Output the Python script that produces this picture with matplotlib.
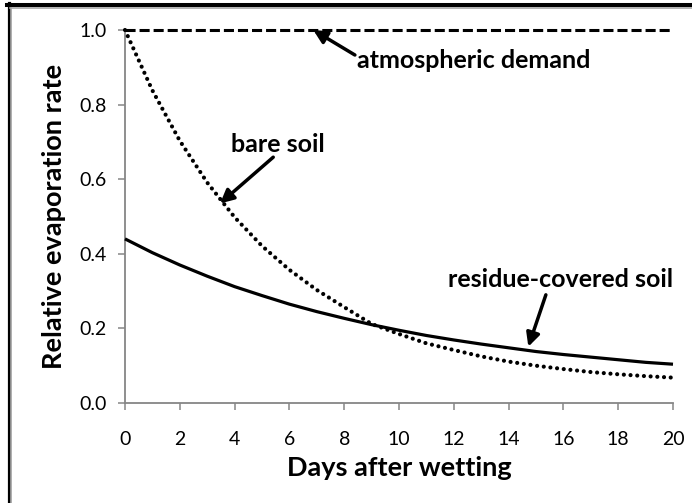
import matplotlib

matplotlib.use("Agg")
import matplotlib.pyplot as plt
from matplotlib.lines import Line2D

# values
days = list(range(21))
bare_soil = [1.00, 0.838, 0.703, 0.591, 0.498, 0.421, 0.357, 0.303, 0.257, 0.212,
             0.185, 0.160, 0.142, 0.125, 0.111, 0.100, 0.091, 0.083, 0.077, 0.072,
             0.068]
residue_soil = [0.44, 0.403, 0.370, 0.340, 0.312, 0.288, 0.265, 0.245, 0.227, 0.210,
                0.195, 0.181, 0.169, 0.158, 0.148, 0.138, 0.130, 0.123, 0.116, 0.109,
                0.104]
demand_x = [0, 20]
demand_y = [1.0, 1.0]

x_ticks = [0, 2, 4, 6, 8, 10, 12, 14, 16, 18, 20]
y_ticks = [0.0, 0.2, 0.4, 0.6, 0.8, 1.0]

plt.rcParams["font.family"] = ["Lato", "DejaVu Sans"]

W, H = 692, 503
fig = plt.figure(figsize=(W / 100, H / 100), dpi=100)
ax = fig.add_axes([125 / W, 1 - 403 / H, (673 - 125) / W, (403 - 30) / H])

ax.plot(demand_x, demand_y, color="black", lw=2.2, linestyle=(0, (3.3, 1.3)),
        dash_capstyle="butt", clip_on=False, zorder=3)
ax.plot(days, bare_soil, color="black", lw=3.0, linestyle=(0, (0.01, 1.6)),
        dash_capstyle="round", clip_on=False, zorder=3)
ax.plot(days, residue_soil, color="black", lw=2.3, solid_capstyle="butt",
        clip_on=False, zorder=3)

ax.set_xlim(0, 20)
ax.set_ylim(0, 1.0)
ax.set_xticks(x_ticks)
ax.set_yticks(y_ticks)
ax.set_yticklabels([f"{v:.1f}" for v in y_ticks])
for side in ("top", "right"):
    ax.spines[side].set_visible(False)
for side in ("left", "bottom"):
    ax.spines[side].set_color("#868686")
    ax.spines[side].set_linewidth(1.3)
ax.tick_params(axis="both", direction="out", length=5, width=1.1, color="#868686",
               labelsize=14, labelcolor="black")
ax.tick_params(axis="x", pad=15)
ax.tick_params(axis="y", pad=8)

ax.set_xlabel("Days after wetting", fontsize=19.5, fontweight="bold", labelpad=6)
ax.set_ylabel("Relative evaporation rate", fontsize=19.5, fontweight="bold", labelpad=10)

arrow = dict(arrowstyle="-|>,head_length=0.8,head_width=0.4", color="black", lw=2.5,
             shrinkA=0, shrinkB=0)
ax.annotate("", xy=(6.87, 1.0), xytext=(8.39, 0.933), arrowprops=arrow,
            annotation_clip=False)
ax.text(8.47, 0.897, "atmospheric demand", fontsize=18, fontweight="bold",
        ha="left", va="baseline")

ax.annotate("", xy=(3.47, 0.535), xytext=(5.41, 0.659), arrowprops=arrow)
ax.text(5.57, 0.674, "bare soil", fontsize=18, fontweight="bold",
        ha="center", va="baseline")

ax.annotate("", xy=(14.72, 0.151), xytext=(15.36, 0.29), arrowprops=arrow)
ax.text(20, 0.310, "residue-covered soil", fontsize=18, fontweight="bold",
        ha="right", va="baseline")

# frame lines along the left and top edges of the picture
fig.add_artist(Line2D([8.7 / W, 8.7 / W], [0, 1 - 3.3 / H], color="black", lw=2.3,
                      transform=fig.transFigure))
fig.add_artist(Line2D([7.3 / W, 1], [1 - 5.3 / H, 1 - 5.3 / H], color="black", lw=2.9,
                      transform=fig.transFigure))
fig.add_artist(Line2D([11 / W, 11 / W], [0, 1 - 8 / H], color="#a6a6a6", lw=1.2,
                      transform=fig.transFigure))
fig.add_artist(Line2D([10 / W, 1], [1 - 8.3 / H, 1 - 8.3 / H], color="#a6a6a6", lw=1.2,
                      transform=fig.transFigure))

fig.savefig("out.png", dpi=100)
